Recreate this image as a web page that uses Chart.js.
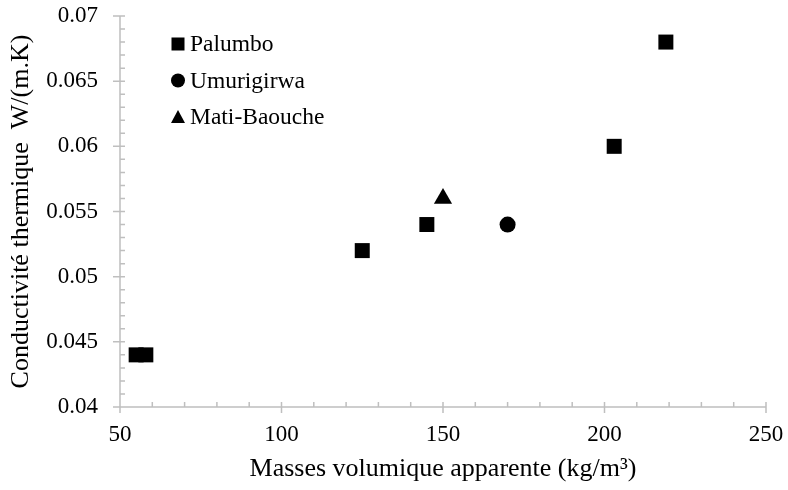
<!DOCTYPE html>
<html>
<head>
<meta charset="utf-8">
<script src="https://cdn.jsdelivr.net/npm/chart.js@4.4.1/dist/chart.umd.min.js"></script>
<style>
  html, body { margin: 0; padding: 0; background: #fff; }
  #wrap { width: 788px; height: 490px; }
</style>
</head>
<body>
<div id="wrap"><canvas id="c" width="788" height="490"></canvas></div>
<script>
// ---- Data ----
const seriesNames = ['Palumbo', 'Umurigirwa', 'Mati-Baouche'];
const palumboX = [55, 58, 125, 145, 203, 219];
const palumboY = [0.044, 0.044, 0.052, 0.054, 0.060, 0.068];
const umurigirwaX = [170];
const umurigirwaY = [0.054];
const matiBaoucheX = [150];
const matiBaoucheY = [0.056];
const xTicks = [50, 100, 150, 200, 250];
const yTicks = [0.04, 0.045, 0.05, 0.055, 0.06, 0.065, 0.07];
const xTitle = 'Masses volumique apparente (kg/m\u00B3)';
const yTitle = 'Conductivit\u00E9 thermique  W/(m.K)';

const toPts = (xs, ys) => xs.map((x, i) => ({ x: x, y: ys[i] }));

const FONT = '"Liberation Serif", "Times New Roman", serif';
const AXIS = '#BFBFBF';

// Axis lines, major (crossing) and minor (inside) ticks, via scale pixels
const axisPlugin = {
  id: 'axisTicks',
  afterDraw(chart) {
    const ctx = chart.ctx;
    const xs = chart.scales.x, ys = chart.scales.y;
    const a = chart.chartArea;
    ctx.save();
    ctx.strokeStyle = AXIS;
    ctx.lineWidth = 1.5;
    ctx.beginPath();
    ctx.moveTo(a.left, a.top); ctx.lineTo(a.left, a.bottom);
    ctx.moveTo(a.left, a.bottom); ctx.lineTo(a.right, a.bottom);
    xTicks.forEach(v => {
      const p = xs.getPixelForValue(v);
      ctx.moveTo(p, a.bottom - 5); ctx.lineTo(p, a.bottom + 6);
    });
    for (let i = 0; i < xTicks.length - 1; i++) {
      const step = (xTicks[i + 1] - xTicks[i]) / 5;
      for (let k = 1; k < 5; k++) {
        const p = xs.getPixelForValue(xTicks[i] + k * step);
        ctx.moveTo(p, a.bottom); ctx.lineTo(p, a.bottom - 5);
      }
    }
    yTicks.forEach(v => {
      const p = ys.getPixelForValue(v);
      ctx.moveTo(a.left - 7, p); ctx.lineTo(a.left + 5, p);
    });
    for (let i = 0; i < yTicks.length - 1; i++) {
      const step = (yTicks[i + 1] - yTicks[i]) / 5;
      for (let k = 1; k < 5; k++) {
        const p = ys.getPixelForValue(yTicks[i] + k * step);
        ctx.moveTo(a.left, p); ctx.lineTo(a.left + 5, p);
      }
    }
    ctx.stroke();
    ctx.restore();
  }
};

// Legend drawn inside the plot area
const legendPlugin = {
  id: 'innerLegend',
  afterDraw(chart) {
    const ctx = chart.ctx;
    const baseX = 178, baseY = 44, gap = 36.5;
    ctx.save();
    ctx.font = '23.5px ' + FONT;
    ctx.textBaseline = 'middle';
    chart.data.datasets.forEach((ds, i) => {
      const y = baseY + i * gap;
      ctx.fillStyle = '#000';
      ctx.beginPath();
      if (ds.pointStyle === 'rect') {
        ctx.fillRect(baseX - 6.5, y - 6.5, 13, 13);
      } else if (ds.pointStyle === 'circle') {
        ctx.arc(baseX, y, 7, 0, Math.PI * 2);
        ctx.fill();
      } else {
        ctx.moveTo(baseX, y - 7);
        ctx.lineTo(baseX + 7, y + 6);
        ctx.lineTo(baseX - 7, y + 6);
        ctx.closePath();
        ctx.fill();
      }
      ctx.fillText(ds.label, baseX + 12, y + 1);
    });
    ctx.restore();
  }
};

new Chart(document.getElementById('c'), {
  type: 'scatter',
  data: {
    datasets: [
      { label: seriesNames[0], data: toPts(palumboX, palumboY), pointStyle: 'rect',
        pointRadius: 10.6, backgroundColor: '#000', borderColor: '#000', borderWidth: 0 },
      { label: seriesNames[1], data: toPts(umurigirwaX, umurigirwaY), pointStyle: 'circle',
        pointRadius: 8, backgroundColor: '#000', borderColor: '#000', borderWidth: 0 },
      { label: seriesNames[2], data: toPts(matiBaoucheX, matiBaoucheY), pointStyle: 'triangle',
        pointRadius: 10.5, backgroundColor: '#000', borderColor: '#000', borderWidth: 0 }
    ]
  },
  options: {
    responsive: false,
    animation: false,
    devicePixelRatio: 1,
    layout: { padding: { top: 16, right: 22, left: 0, bottom: 0 } },
    plugins: {
      legend: { display: false },
      tooltip: { enabled: false }
    },
    scales: {
      x: {
        type: 'linear',
        min: 50, max: 250,
        afterBuildTicks: s => { s.ticks = xTicks.map(v => ({ value: v })); },
        afterFit: s => { s.height = 83; s.paddingLeft = 0; s.paddingRight = 0; },
        grid: { display: false, drawTicks: false },
        border: { display: false },
        ticks: { color: '#000', font: { family: FONT, size: 23 }, padding: 14 },
        title: { display: true, text: xTitle, color: '#000',
                 font: { family: FONT, size: 26 }, padding: { top: 0, bottom: 5 } }
      },
      y: {
        type: 'linear',
        min: 0.04, max: 0.07,
        afterBuildTicks: s => { s.ticks = yTicks.map(v => ({ value: v })); },
        afterFit: s => { s.width = 120; s.paddingTop = 0; s.paddingBottom = 0; },
        grid: { display: false, drawTicks: false },
        border: { display: false },
        ticks: { color: '#000', font: { family: FONT, size: 23 }, padding: 22,
                 callback: v => String(Number(v.toFixed(3))) },
        title: { display: true, text: yTitle, color: '#000',
                 font: { family: FONT, size: 26 }, padding: { top: 6, bottom: 0 } }
      }
    }
  },
  plugins: [axisPlugin, legendPlugin]
});
</script>
</body>
</html>
